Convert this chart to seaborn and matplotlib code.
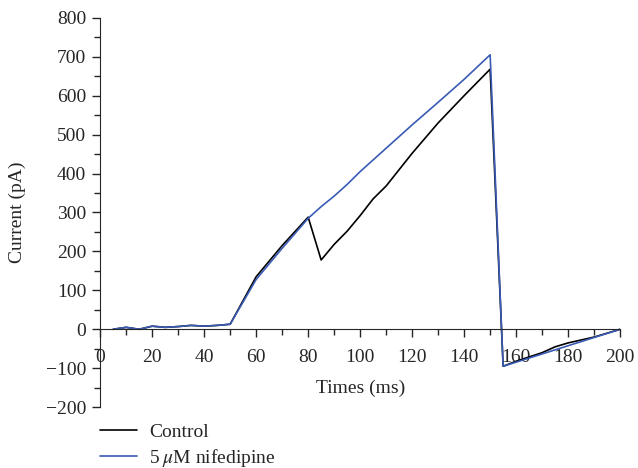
import numpy as np
import pandas as pd
import matplotlib
matplotlib.use('Agg')
import matplotlib.pyplot as plt
from matplotlib.ticker import MultipleLocator
from matplotlib.lines import Line2D
import seaborn as sns

# data
control_t = [5, 10, 15, 20, 25, 30, 35, 40, 45, 50, 60, 70, 80, 85, 90, 95, 100, 105, 110,
             120, 130, 140, 150, 155, 160, 170, 175, 180, 190, 200]
control_i = [0, 5, 0, 8, 5, 7, 10, 8, 10, 13, 135, 215, 288, 178, 218, 252, 292, 335, 368,
             452, 530, 600, 668, -95, -82, -60, -45, -35, -20, 0]

nif_t = [5, 10, 15, 20, 25, 30, 35, 40, 45, 50, 60, 70, 80, 85, 90, 95, 100, 110,
         120, 130, 140, 150, 155, 200]
nif_i = [0, 5, 0, 8, 5, 7, 10, 8, 10, 13, 128, 208, 285, 315, 342, 372, 405, 465,
         525, 583, 642, 705, -95, 0]

labels = ['Control', '5\u2009$\\mu$M nifedipine']
df = pd.concat([
    pd.DataFrame({'t': control_t, 'i': control_i, 'cond': labels[0]}),
    pd.DataFrame({'t': nif_t, 'i': nif_i, 'cond': labels[1]}),
])

sns.set_style('ticks')
plt.rcParams['font.family'] = ['Liberation Serif', 'DejaVu Serif']
plt.rcParams['mathtext.fontset'] = 'stix'

fig = plt.figure(figsize=(6.38, 4.68), dpi=100)
ax = fig.add_axes([0.157, 0.130, 0.815, 0.832])

palette = {labels[0]: '#000000', labels[1]: '#3a5bb5'}
sns.lineplot(data=df, x='t', y='i', hue='cond', palette=palette, sort=False,
             linewidth=1.2, ax=ax, legend=False)

ax.set_xlim(0, 200)
ax.set_ylim(-200, 800)
ax.spines['top'].set_visible(False)
ax.spines['right'].set_visible(False)
ax.spines['bottom'].set_position(('data', 0))
ax.spines['bottom'].set_bounds(0, 200)

ax.xaxis.set_major_locator(MultipleLocator(20))
ax.xaxis.set_minor_locator(MultipleLocator(10))
ax.yaxis.set_major_locator(MultipleLocator(100))
ax.yaxis.set_minor_locator(MultipleLocator(50))
ax.tick_params(which='major', direction='out', length=6, width=1, labelsize=14, pad=4)
ax.tick_params(which='minor', direction='out', length=4, width=1)
ax.tick_params(axis='x', which='major', pad=8)
ax.set_yticks(np.arange(-200, 801, 100))
ax.set_yticklabels([f'{int(v)}'.replace('-', '\u2212') for v in ax.get_yticks()])

ax.set_xlabel('Times (ms)', fontsize=14, labelpad=10)
ax.set_ylabel('Current (pA)', fontsize=14, labelpad=14)

handles = [Line2D([], [], color=palette[k], lw=1.2) for k in labels]
fig.legend(handles, labels, loc='upper left',
           bbox_to_anchor=(0.157, 0.095), frameon=False, fontsize=14,
           handlelength=1.9, handletextpad=0.6, labelspacing=0.3, borderaxespad=0,
           borderpad=0)

plt.savefig('out.png', dpi=100)
